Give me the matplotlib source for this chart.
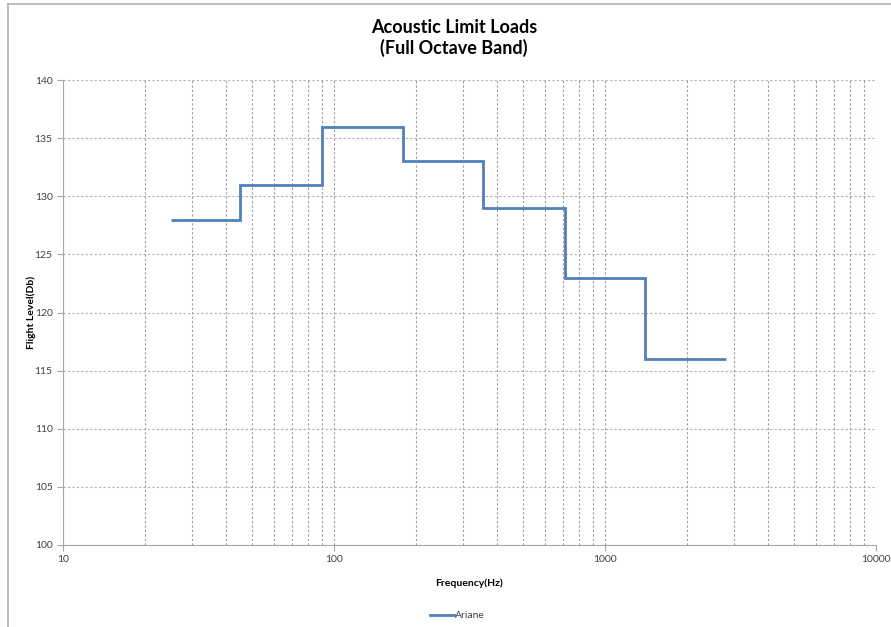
import matplotlib.pyplot as plt
import numpy as np
from matplotlib.lines import Line2D
from matplotlib.ticker import LogLocator, FixedLocator, NullFormatter

# octave band edges (Hz) and flight levels (dB)
band_edges = [25, 45, 90, 180, 355, 710, 1400, 2800]
levels = [128, 131, 136, 133, 129, 123, 116]
series_name = 'Ariane'

plt.rcParams['font.family'] = ['Lato', 'DejaVu Sans']

fig = plt.figure(figsize=(8.91, 6.27), dpi=100)
ax = fig.add_axes([63/891, 1 - 545/627, (876 - 63)/891, (545 - 80)/627])

# chart frame lines (left and top)
fig.add_artist(Line2D([8/891, 8/891], [0, 1 - 4/627], color='#b0b0b0', lw=1.2))
fig.add_artist(Line2D([8/891, 1], [1 - 4/627, 1 - 4/627], color='#b0b0b0', lw=1.2))

ax.stairs(levels, band_edges, baseline=None, color='#4F81BD', lw=2.0,
          label=series_name)

ax.set_xscale('log')
ax.set_xlim(10, 10000)
ax.set_ylim(100, 140)
ax.set_yticks(np.arange(100, 141, 5))
ax.xaxis.set_major_locator(FixedLocator([10, 100, 1000, 10000]))
ax.xaxis.set_minor_locator(LogLocator(base=10, subs=np.arange(2, 10)))
ax.xaxis.set_minor_formatter(NullFormatter())
ax.set_xticklabels(['10', '100', '1000', '10000'])

ax.grid(True, which='both', axis='x', color='#9a9a9a', ls=(0, (2, 2)), lw=0.8)
ax.grid(True, which='major', axis='y', color='#b0b0b0', ls=(0, (2, 2)), lw=0.8)
ax.set_axisbelow(True)

for side in ['top', 'right']:
    ax.spines[side].set_visible(False)
for side in ['left', 'bottom']:
    ax.spines[side].set_color('#a6a6a6')
ax.tick_params(which='major', length=4, color='#a6a6a6', labelsize=7.5,
               labelcolor='#404040')
ax.tick_params(which='minor', length=0)

ax.set_xlabel('Frequency(Hz)', fontsize=7.5, fontweight='bold', labelpad=10)
ax.set_ylabel('Flight Level(Db)', fontsize=7.5, fontweight='bold', labelpad=-1)

fig.text(454/891, 1 - 38/627, 'Acoustic Limit Loads\n(Full Octave Band)',
         ha='center', va='center', fontsize=13, fontweight='bold',
         linespacing=1.15)

ax.legend(loc='center', bbox_to_anchor=(0.485, -0.152), frameon=False,
          fontsize=7.5, handlelength=2.3, handletextpad=0.1,
          labelcolor='#404040')

fig.savefig('out.png', dpi=100)
